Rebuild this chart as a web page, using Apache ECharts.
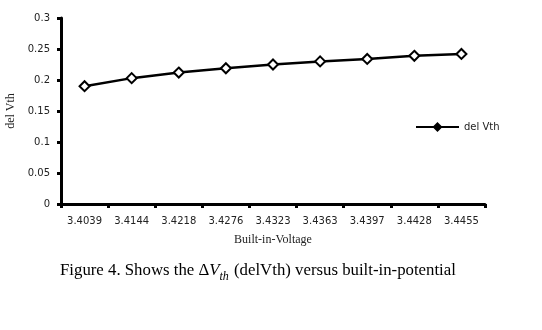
<!DOCTYPE html>
<html><head><meta charset="utf-8">
<script src="https://cdn.jsdelivr.net/npm/echarts@6/dist/echarts.min.js"></script>
<style>html,body{margin:0;padding:0;background:#fff}#c{width:542px;height:330px}</style>
</head><body><div id="c"></div>
<script>
var categories = ['3.4039','3.4144','3.4218','3.4276','3.4323','3.4363','3.4397','3.4428','3.4455'];
var delVth = [0.19, 0.203, 0.212, 0.219, 0.225, 0.23, 0.234, 0.239, 0.242];
var seriesName = 'del Vth';
var chart = echarts.init(document.getElementById('c'));
chart.setOption({
  animation: false,
  backgroundColor: '#fff',
  grid: {left: 61, right: 57, top: 18, bottom: 126, containLabel: false, outerBoundsMode: 'none'},
  legend: {
    data: [{name: seriesName, itemStyle: {color: '#000', borderColor: '#000'}}],
    left: 410, top: 117, itemWidth: 43, itemHeight: 9, itemGap: 4,
    textStyle: {fontFamily: 'DejaVu Sans', fontSize: 10, color: '#222'}
  },
  xAxis: {
    type: 'category', data: categories, boundaryGap: true,
    name: 'Built-in-Voltage', nameLocation: 'middle', nameGap: 30,
    nameTextStyle: {fontFamily: 'Liberation Serif', fontSize: 12, color: '#222'},
    axisLine: {lineStyle: {color: '#000', width: 3}},
    axisTick: {show: true, length: 4, lineStyle: {color: '#000', width: 3}},
    axisLabel: {fontFamily: 'DejaVu Sans', fontSize: 10, color: '#222', margin: 12, interval: 0},
    splitLine: {show: false}
  },
  yAxis: {
    type: 'value', min: 0, max: 0.3, interval: 0.05,
    name: 'del Vth', nameLocation: 'middle', nameGap: 41,
    nameTextStyle: {fontFamily: 'Liberation Serif', fontSize: 12, color: '#222'},
    axisLine: {show: true, lineStyle: {color: '#000', width: 3}},
    axisTick: {show: true, length: 4, lineStyle: {color: '#000', width: 3}},
    axisLabel: {fontFamily: 'DejaVu Sans', fontSize: 10, color: '#222', margin: 11,
      formatter: function (v) { return String(+v.toFixed(2)); }},
    splitLine: {show: false}
  },
  series: [{
    name: seriesName, type: 'line', data: delVth,
    symbol: 'diamond', symbolSize: 10, showAllSymbol: true,
    lineStyle: {color: '#000', width: 2.5},
    itemStyle: {color: '#fff', borderColor: '#000', borderWidth: 2}
  }],
  graphic: [{
    type: 'text', left: 60, top: 262,
    style: {
      text: '{n|Figure 4. Shows the Δ}{i|V}{s|th}{n| (delVth) versus built-in-potential}',
      fill: '#000',
      rich: {
        n: {fontFamily: 'Liberation Serif', fontSize: 16.8, fill: '#000', lineHeight: 22, padding: [0, 0, 4, 0], verticalAlign: 'bottom'},
        i: {fontFamily: 'Liberation Serif', fontStyle: 'italic', fontSize: 16.8, fill: '#000', lineHeight: 22, padding: [0, 0, 4, 0], verticalAlign: 'bottom'},
        s: {fontFamily: 'Liberation Serif', fontStyle: 'italic', fontSize: 12, fill: '#000', lineHeight: 15, padding: [0, 1, 0, 0], verticalAlign: 'bottom'}
      }
    }
  }]
});
</script></body></html>
